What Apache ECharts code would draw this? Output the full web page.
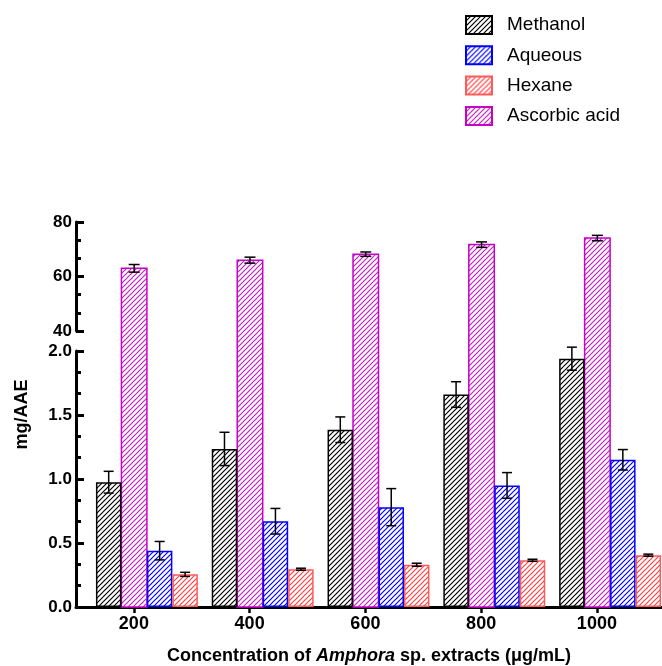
<!DOCTYPE html>
<html>
<head>
<meta charset="utf-8">
<script src="https://cdn.jsdelivr.net/npm/echarts@6/dist/echarts.min.js"></script>
<style>html,body{margin:0;padding:0;background:#fff}#c{width:662px;height:666px}</style>
</head>
<body>
<div id="c"></div>
<script>
// ---- data ----
const categories = ['200', '400', '600', '800', '1000'];
const tickValues = [200, 400, 600, 800, 1000];
const methanol = [0.975, 1.235, 1.385, 1.66, 1.94];
const methanolErr = [0.085, 0.13, 0.10, 0.10, 0.09];
const aqueous = [0.44, 0.67, 0.78, 0.95, 1.15];
const aqueousErr = [0.072, 0.10, 0.145, 0.10, 0.08];
const hexane = [0.255, 0.295, 0.33, 0.365, 0.405];
const hexaneErr = [0.016, 0.008, 0.012, 0.008, 0.008];
const ascorbic = [63.0, 66.0, 68.2, 71.7, 74.1];
const ascorbicErr = [1.4, 1.1, 0.8, 1.0, 1.0];
const lowerTicks = { min: 0, max: 2, interval: 0.5 };
const upperTicks = { min: 40, max: 80, interval: 20 };

// ---- layout ----
const FONT = 'Liberation Sans, Arial, Helvetica, sans-serif';
const AXIS_LEFT = 76;
const UPPER_TOP = 222, BREAK_TOP = 331, LOWER_TOP = 351, BASE = 607;
const BAR_LEFT = 89, BAR_AREA_W = 579;
const BAR_FRAC = 0.22;
const W = 662, H = 666;
// tall grid y-min so that upper scale (40..80) maps onto 331..222 and extends to the baseline
const tallMin = upperTicks.min - (BASE - BREAK_TOP) * (upperTicks.max - upperTicks.min) / (BREAK_TOP - UPPER_TOP);

function hatch(color) {
  const s = 5;
  const c = document.createElement('canvas');
  c.width = s; c.height = s;
  const g = c.getContext('2d');
  g.fillStyle = '#fff'; g.fillRect(0, 0, s, s);
  g.strokeStyle = color; g.lineWidth = 1.2;
  g.beginPath();
  g.moveTo(-1, s + 1); g.lineTo(s + 1, -1);
  g.moveTo(-1, 1); g.lineTo(1, -1);
  g.moveTo(s - 1, s + 1); g.lineTo(s + 1, s - 1);
  g.stroke();
  return { image: c, repeat: 'repeat' };
}

const COLORS = {
  Methanol: { stripe: '#000000', border: '#000000' },
  Aqueous: { stripe: '#0000ff', border: '#0000ff' },
  Hexane: { stripe: '#ff4040', border: '#ff5a5a' },
  'Ascorbic acid': { stripe: '#c21fc2', border: '#c800c8' }
};
function itemStyleFor(name) {
  return { color: hatch(COLORS[name].stripe), borderColor: COLORS[name].border, borderWidth: 1.5 };
}

function toData(vals, errs) { return vals.map((v, i) => [i, v, errs[i]]); }

function errorSeries(vals, errs, slot, xi, yi, capHalf) {
  return {
    type: 'custom', xAxisIndex: xi, yAxisIndex: yi, z: 10, silent: true,
    data: toData(vals, errs),
    renderItem: function (params, api) {
      const i = api.value(0), v = api.value(1), e = api.value(2);
      const w = api.size([1, 0])[0] * BAR_FRAC;
      const hi = api.coord([i, v + e]);
      const lo = api.coord([i, v - e]);
      const x = hi[0] + (slot - 1.5) * w;
      const st = { stroke: '#000', lineWidth: 1.5 };
      return { type: 'group', children: [
        { type: 'line', shape: { x1: x, y1: hi[1], x2: x, y2: lo[1] }, style: st },
        { type: 'line', shape: { x1: x - capHalf, y1: hi[1], x2: x + capHalf, y2: hi[1] }, style: st },
        { type: 'line', shape: { x1: x - capHalf, y1: lo[1], x2: x + capHalf, y2: lo[1] }, style: st }
      ]};
    }
  };
}

function barSeries(name, vals) {
  return {
    name: name, type: 'bar', xAxisIndex: 2, yAxisIndex: 2,
    data: vals, barWidth: (BAR_FRAC * 100) + '%', barGap: '0%',
    itemStyle: itemStyleFor(name), emphasis: { disabled: true }
  };
}

const ascStyle = itemStyleFor('Ascorbic acid');
const option = {
  animation: false,
  backgroundColor: '#fff',
  textStyle: { fontFamily: FONT },
  legend: {
    data: ['Methanol', 'Aqueous', 'Hexane', 'Ascorbic acid'],
    orient: 'vertical', left: 465, top: 15, padding: 0,
    itemWidth: 26, itemHeight: 18, itemGap: 10.3, icon: 'rect',
    selectedMode: false,
    textStyle: { fontFamily: FONT, fontSize: 19, color: '#000', lineHeight: 18, padding: [0, 0, 0, 10] }
  },
  grid: [
    { left: AXIS_LEFT, right: 0, top: LOWER_TOP, height: BASE - LOWER_TOP, outerBoundsMode: 'none' },
    { left: AXIS_LEFT, right: 0, top: UPPER_TOP, height: BREAK_TOP - UPPER_TOP, outerBoundsMode: 'none' },
    { left: BAR_LEFT, width: BAR_AREA_W, top: LOWER_TOP, height: BASE - LOWER_TOP, outerBoundsMode: 'none' },
    { left: BAR_LEFT, width: BAR_AREA_W, top: UPPER_TOP, height: BASE - UPPER_TOP, outerBoundsMode: 'none' }
  ],
  xAxis: [
    {
      gridIndex: 0, type: 'value', min: 100, max: 1112.5,
      splitLine: { show: false },
      axisLine: { lineStyle: { color: '#000', width: 3 } },
      axisTick: { customValues: tickValues, length: 6, lineStyle: { color: '#000', width: 2.5 } },
      axisLabel: { customValues: tickValues, color: '#000', fontWeight: 'bold', fontSize: 18, margin: 8, fontFamily: FONT,
        formatter: v => String(v) },
      name: '{b|Concentration of }{i|Amphora}{b| sp. extracts (μg/mL)}',
      nameLocation: 'middle', nameGap: 40,
      nameTextStyle: {
        rich: {
          b: { fontWeight: 'bold', fontSize: 18, color: '#000', fontFamily: FONT },
          i: { fontWeight: 'bold', fontStyle: 'italic', fontSize: 18, color: '#000', fontFamily: FONT }
        }
      }
    },
    { gridIndex: 1, type: 'value', show: false },
    { gridIndex: 2, type: 'category', data: categories, show: false },
    { gridIndex: 3, type: 'category', data: categories, show: false }
  ],
  yAxis: [
    {
      gridIndex: 0, type: 'value', min: lowerTicks.min, max: lowerTicks.max, interval: lowerTicks.interval,
      splitLine: { show: false },
      axisLine: { show: true, lineStyle: { color: '#000', width: 3 } },
      axisTick: { show: true, inside: true, length: 8, lineStyle: { color: '#000', width: 3 } },
      minorTick: { show: true, splitNumber: 3, length: 5, lineStyle: { color: '#000', width: 3 } },
      axisLabel: { color: '#000', fontWeight: 'bold', fontSize: 17, margin: 4, fontFamily: FONT,
        formatter: v => v.toFixed(1) }
    },
    {
      gridIndex: 1, type: 'value', min: upperTicks.min, max: upperTicks.max, interval: upperTicks.interval,
      splitLine: { show: false },
      axisLine: { show: true, lineStyle: { color: '#000', width: 3 } },
      axisTick: { show: true, inside: true, length: 8, lineStyle: { color: '#000', width: 3 } },
      minorTick: { show: true, splitNumber: 3, length: 5, lineStyle: { color: '#000', width: 3 } },
      axisLabel: { color: '#000', fontWeight: 'bold', fontSize: 17, margin: 4, fontFamily: FONT }
    },
    { gridIndex: 2, type: 'value', min: lowerTicks.min, max: lowerTicks.max, show: false },
    {
      gridIndex: 3, type: 'value', min: tallMin, max: upperTicks.max,
      axisLine: { show: false }, axisTick: { show: false }, axisLabel: { show: false }, splitLine: { show: false },
      name: 'mg/AAE', nameLocation: 'middle', nameGap: 58,
      nameTextStyle: { fontWeight: 'bold', fontSize: 18, color: '#000', fontFamily: FONT }
    }
  ],
  series: [
    barSeries('Methanol', methanol),
    { name: 'spacer', type: 'bar', xAxisIndex: 2, yAxisIndex: 2, data: categories.map(() => '-'),
      barWidth: (BAR_FRAC * 100) + '%', barGap: '0%' },
    barSeries('Aqueous', aqueous),
    barSeries('Hexane', hexane),
    {
      name: 'Ascorbic acid', type: 'custom', xAxisIndex: 3, yAxisIndex: 3,
      itemStyle: ascStyle,
      data: toData(ascorbic, ascorbicErr),
      renderItem: function (params, api) {
        const i = api.value(0), v = api.value(1);
        const top = api.coord([i, v]);
        const w = api.size([1, 0])[0] * BAR_FRAC;
        const cs = params.coordSys;
        const bottom = cs.y + cs.height;
        const x = top[0] + (1 - 1.5) * w - w / 2;
        return { type: 'rect', shape: { x: x, y: top[1], width: w, height: bottom - top[1] },
          style: { fill: ascStyle.color, stroke: ascStyle.borderColor, lineWidth: ascStyle.borderWidth } };
      }
    },
    errorSeries(methanol, methanolErr, 0, 2, 2, 5),
    errorSeries(aqueous, aqueousErr, 2, 2, 2, 5),
    errorSeries(hexane, hexaneErr, 3, 2, 2, 5),
    errorSeries(ascorbic, ascorbicErr, 1, 3, 3, 5.5)
  ]
};

const chart = echarts.init(document.getElementById('c'), null, { renderer: 'canvas', width: W, height: H });
chart.setOption(option);
</script>
</body>
</html>
